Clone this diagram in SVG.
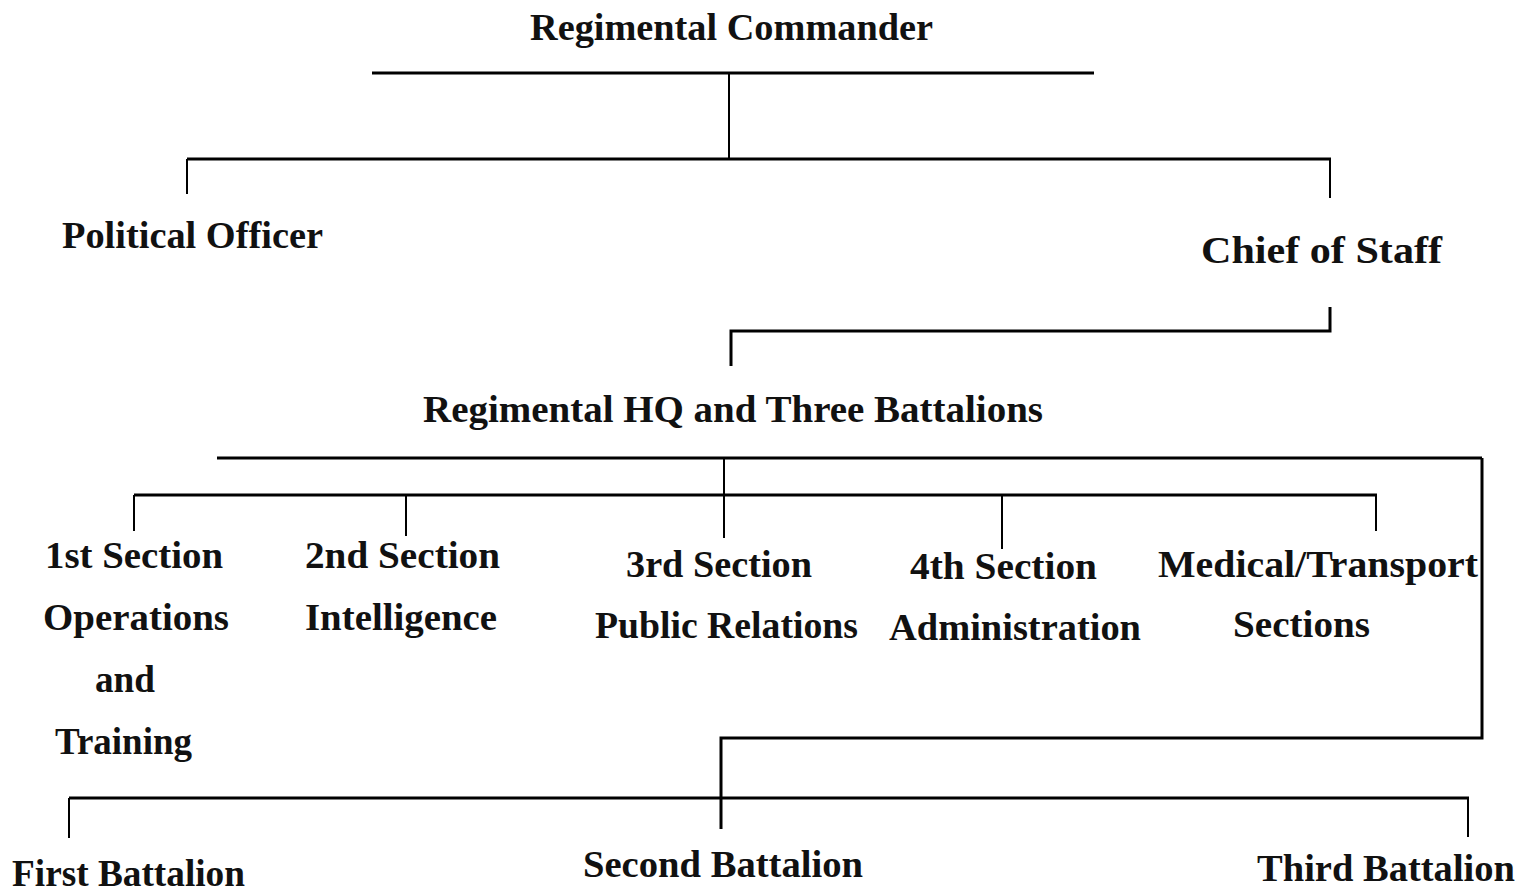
<svg xmlns="http://www.w3.org/2000/svg" width="1532" height="892" viewBox="0 0 1532 892">
<style>
text{font-family:"Liberation Serif","Times New Roman",serif;font-size:37px;font-weight:bold;fill:#111;}
.h{stroke:#000;stroke-width:3;fill:none;}
.v{stroke:#000;stroke-width:2;fill:none;}
</style>
<rect width="1532" height="892" fill="#fff"/>
<g id="connectors">
<line class="h" x1="372" y1="73" x2="1094" y2="73"/>
<line class="v" x1="729" y1="73" x2="729" y2="159"/>
<line class="h" x1="187" y1="159" x2="1331" y2="159"/>
<line class="v" x1="187" y1="159" x2="187" y2="194"/>
<line class="v" x1="1330" y1="159" x2="1330" y2="198"/>
<polyline class="h" points="1330,307 1330,331 731,331 731,366"/>
<line class="h" x1="217" y1="458" x2="1482" y2="458"/>
<polyline class="h" points="1482,458 1482,738 721,738 721,829"/>
<line class="v" x1="724" y1="458" x2="724" y2="538"/>
<line class="h" x1="134" y1="495" x2="1377" y2="495"/>
<line class="v" x1="134" y1="495" x2="134" y2="531"/>
<line class="v" x1="406" y1="495" x2="406" y2="536"/>
<line class="v" x1="1002" y1="495" x2="1002" y2="549"/>
<line class="v" x1="1376" y1="495" x2="1376" y2="531"/>
<line class="h" x1="69" y1="798" x2="1469" y2="798"/>
<line class="v" x1="69" y1="798" x2="69" y2="838"/>
<line class="v" x1="1468" y1="798" x2="1468" y2="837"/>
</g>
<g id="regimental-commander"><text x="530" y="40" textLength="403" lengthAdjust="spacingAndGlyphs">Regimental Commander</text></g>
<g id="political-officer"><text x="62" y="248" textLength="261" lengthAdjust="spacingAndGlyphs">Political Officer</text></g>
<g id="chief-of-staff"><text x="1201" y="263" textLength="241" lengthAdjust="spacingAndGlyphs">Chief of Staff</text></g>
<g id="regimental-hq"><text x="423" y="422" textLength="620" lengthAdjust="spacingAndGlyphs">Regimental HQ and Three Battalions</text></g>
<g id="section-1">
<text x="45" y="568" textLength="178" lengthAdjust="spacingAndGlyphs">1st Section</text>
<text x="43" y="630" textLength="186" lengthAdjust="spacingAndGlyphs">Operations</text>
<text x="95" y="692" textLength="60" lengthAdjust="spacingAndGlyphs">and</text>
<text x="55" y="754" textLength="137" lengthAdjust="spacingAndGlyphs">Training</text>
</g>
<g id="section-2">
<text x="305" y="568" textLength="195" lengthAdjust="spacingAndGlyphs">2nd Section</text>
<text x="305" y="630" textLength="192" lengthAdjust="spacingAndGlyphs">Intelligence</text>
</g>
<g id="section-3">
<text x="626" y="577" textLength="186" lengthAdjust="spacingAndGlyphs">3rd Section</text>
<text x="595" y="638" textLength="263" lengthAdjust="spacingAndGlyphs">Public Relations</text>
</g>
<g id="section-4">
<text x="910" y="579" textLength="187" lengthAdjust="spacingAndGlyphs">4th Section</text>
<text x="889" y="640" textLength="252" lengthAdjust="spacingAndGlyphs">Administration</text>
</g>
<g id="medical-transport">
<text x="1158" y="577" textLength="320" lengthAdjust="spacingAndGlyphs">Medical/Transport</text>
<text x="1233" y="637" textLength="137" lengthAdjust="spacingAndGlyphs">Sections</text>
</g>
<g id="first-battalion"><text x="12" y="886" textLength="233" lengthAdjust="spacingAndGlyphs">First Battalion</text></g>
<g id="second-battalion"><text x="583" y="877" textLength="280" lengthAdjust="spacingAndGlyphs">Second Battalion</text></g>
<g id="third-battalion"><text x="1257" y="881" textLength="258" lengthAdjust="spacingAndGlyphs">Third Battalion</text></g>
</svg>
